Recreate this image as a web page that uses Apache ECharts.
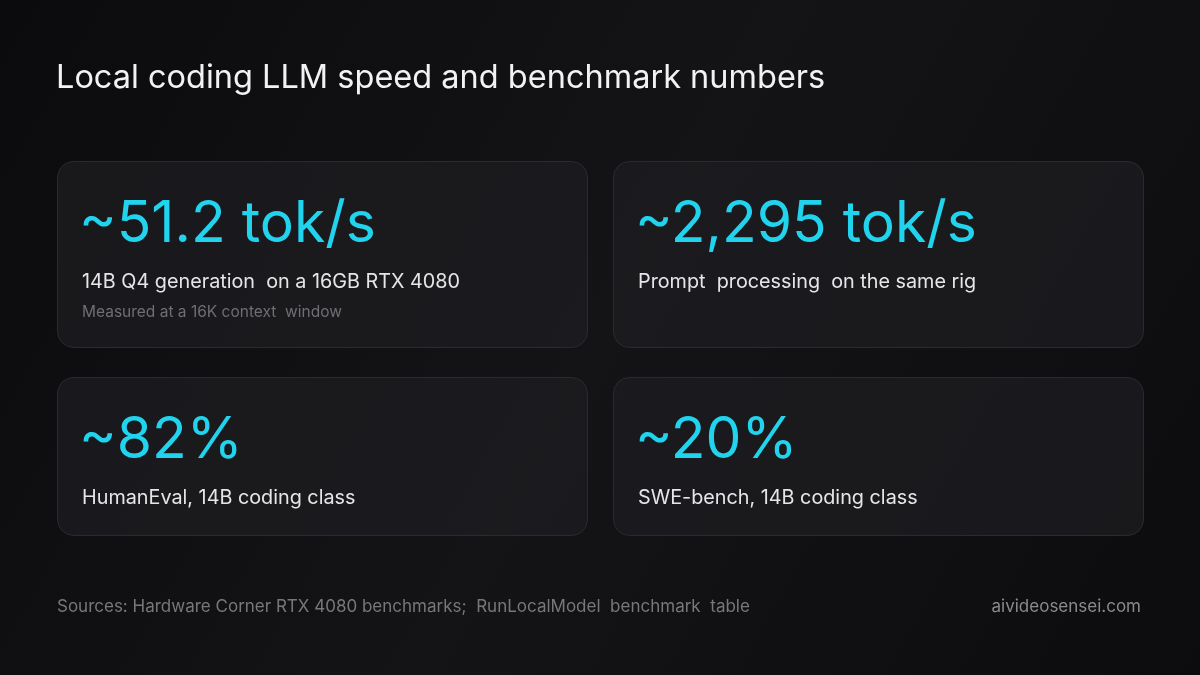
<!DOCTYPE html>
<html><head><meta charset="utf-8">
<script src="https://cdn.jsdelivr.net/npm/echarts@6/dist/echarts.min.js"></script>
<style>html,body{margin:0;padding:0;background:#0d0d0f}#c{width:1200px;height:675px}</style>
</head><body><div id="c"></div>
<script>
const title = "Local coding LLM speed and benchmark numbers";
const values = ["~51.2 tok/s", "~2,295 tok/s", "~82%", "~20%"];
const labels = ["14B Q4 generation  on a 16GB RTX 4080", "Prompt  processing  on the same rig", "HumanEval, 14B coding class", "SWE-bench, 14B coding class"];
const notes = ["Measured at a 16K context  window", "", "", ""];
const source = "Sources: Hardware Corner RTX 4080 benchmarks;  RunLocalModel  benchmark  table";
const brand = "aivideosensei.com";

const F = "Inter, 'Noto Sans', sans-serif";
const chart = echarts.init(document.getElementById('c'));
const cardX = [57, 613], cardY = [161, 377], cardH = [186, 158], cardW = 530;
const els = [
  {type:'rect', shape:{x:0,y:0,width:1200,height:675}, style:{fill:new echarts.graphic.LinearGradient(0,0,1,1,[{offset:0,color:'#0b0b0d'},{offset:0.5,color:'#141416'},{offset:1,color:'#0c0c0e'}])}},
  {type:'text', x:56, y:78, style:{text:title, fill:'#f2f2f2', font:'400 32.5px '+F, textVerticalAlign:'middle'}},
  {type:'text', x:57, y:607, style:{text:source, fill:'#77777c', font:'17px '+F, textVerticalAlign:'middle'}},
  {type:'text', x:1141, y:607, style:{text:brand, fill:'#8a8a8f', font:'17px '+F, textVerticalAlign:'middle', textAlign:'right'}}
];
values.forEach((v,i)=>{
  const x = cardX[i%2], r = Math.floor(i/2), y = cardY[r];
  els.push({type:'rect', shape:{x:x+0.5,y:y+0.5,width:cardW,height:cardH[r],r:16}, style:{fill:'rgba(30,30,33,0.75)', stroke:'#2b2b2f', lineWidth:1}});
  els.push({type:'text', x:x+22, y:y+64, style:{text:v, fill:'#22d3ee', font:'400 57px '+F, textVerticalAlign:'middle'}});
  els.push({type:'text', x:x+25, y:y+121, style:{text:labels[i], fill:'#e6e6e8', font:'19.8px '+F, textVerticalAlign:'middle'}});
  if (notes[i]) els.push({type:'text', x:x+25, y:y+151, style:{text:notes[i], fill:'#6e6e73', font:'15.5px '+F, textVerticalAlign:'middle'}});
});
chart.setOption({backgroundColor:'#0d0d0f', animation:false, graphic:els});
</script></body></html>
